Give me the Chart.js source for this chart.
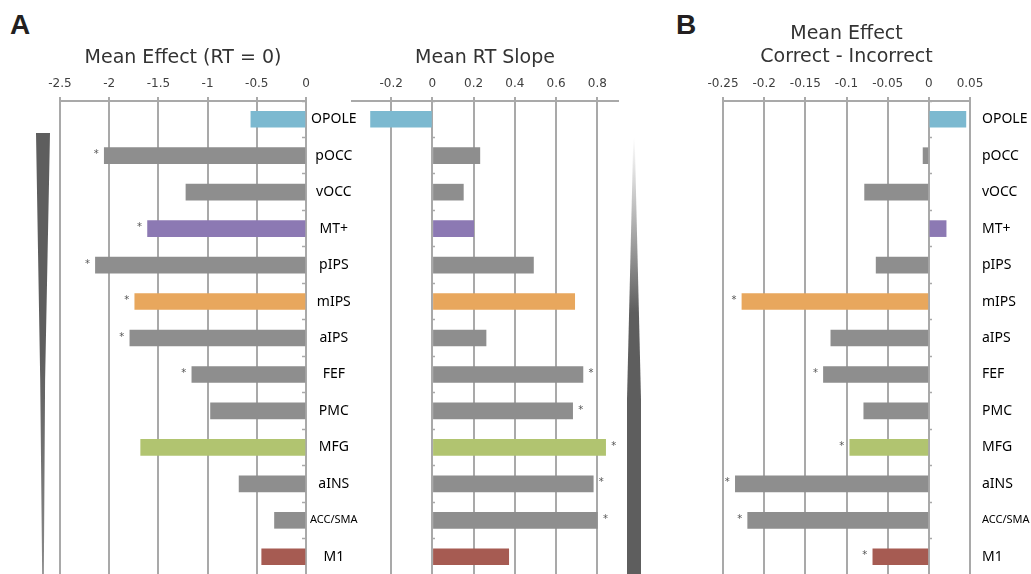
<!DOCTYPE html>
<html>
<head>
<meta charset="utf-8">
<script src="https://cdn.jsdelivr.net/npm/chart.js@4.4.0/dist/chart.umd.min.js"></script>
<style>
html, body { margin: 0; padding: 0; background: #fff; overflow: hidden; }
#fig { position: relative; width: 1031px; height: 574px; overflow: hidden; }
canvas { position: absolute; top: 0; }
.letter { position: absolute; font: bold 28px 'Liberation Sans', Arial, sans-serif; line-height: 28px; color: #231f20; }
#wedgeL { position: absolute; left: 36px; top: 133px; width: 14px; height: 441px;
  background: linear-gradient(#5e5e5e, #5e5e5e 50%, #8a8a8a);
  clip-path: polygon(0 0, 100% 0, 65% 56%, 56% 100%, 44% 100%, 30% 56%); }
#wedgeR { position: absolute; left: 627px; top: 138px; width: 14px; height: 436px;
  background: linear-gradient(#ffffff, #5e5e5e 40%);
  clip-path: polygon(45% 0, 55% 0, 100% 60%, 100% 100%, 0 100%, 0 60%); }
</style>
</head>
<body>
<div id="fig">
  <div class="letter" style="left:10px;top:11px">A</div>
  <div class="letter" style="left:676px;top:11px">B</div>
  <div id="wedgeL"></div>
  <div id="wedgeR"></div>
  <canvas id="c1" width="375" height="580" style="left:0"></canvas>
  <canvas id="c2" width="325" height="580" style="left:345px"></canvas>
  <canvas id="c3" width="361" height="580" style="left:670px"></canvas>
</div>
<script>
// regions, top to bottom
const regions = ['OPOLE', 'pOCC', 'vOCC', 'MT+', 'pIPS', 'mIPS', 'aIPS', 'FEF', 'PMC', 'MFG', 'aINS', 'ACC/SMA', 'M1'];

// A: mean effect at RT = 0, mean RT slope
const meanEffect = [-0.56, -2.05, -1.22, -1.61, -2.14, -1.74, -1.79, -1.16, -0.97, -1.68, -0.68, -0.32, -0.45];
const rtSlope = [-0.30, 0.23, 0.15, 0.20, 0.49, 0.69, 0.26, 0.73, 0.68, 0.84, 0.78, 0.80, 0.37];
// B: correct - incorrect
const corrDiff = [0.045, -0.007, -0.078, 0.021, -0.064, -0.227, -0.119, -0.128, -0.079, -0.096, -0.235, -0.220, -0.068];

// significance stars
const sigEffect = [0, 1, 0, 1, 1, 1, 1, 1, 0, 0, 0, 0, 0];
const sigSlope = [0, 0, 0, 0, 0, 0, 0, 1, 1, 1, 1, 1, 0];
const sigDiff = [0, 0, 0, 0, 0, 1, 0, 1, 0, 1, 1, 1, 1];

// tick labels
const effectTicks = [-2.5, -2, -1.5, -1, -0.5, 0];
const slopeTicks = [-0.2, 0, 0.2, 0.4, 0.6, 0.8];
const diffTicks = [-0.25, -0.2, -0.15, -0.1, -0.05, 0, 0.05];

const grey = '#8e8e8e';
const barColors = ['#7cb9d0', grey, grey, '#8c79b3', grey, '#e8a75d', grey, grey, grey, '#b1c470', grey, grey, '#a65b52'];

const gridGrey = '#a9a9a9';
const numFont = { family: "'DejaVu Sans', Verdana, sans-serif", size: 12 };
const titleFont = { family: "'DejaVu Sans', Verdana, sans-serif", size: 19 };
const labelFamily = "'Noto Sans', 'Open Sans', sans-serif";

Chart.defaults.animation = false;

const stars = {
  id: 'stars',
  afterDatasetsDraw(chart, args, opts) {
    const ctx = chart.ctx;
    ctx.save();
    ctx.font = "10px 'DejaVu Sans'";
    ctx.fillStyle = '#555';
    ctx.textAlign = 'center';
    ctx.textBaseline = 'middle';
    chart.getDatasetMeta(0).data.forEach((bar, i) => {
      if (!opts.flags[i]) return;
      const dir = bar.x < bar.base ? -1 : 1;
      ctx.fillText('*', bar.x + dir * 8, bar.y - 1);
    });
    ctx.restore();
  }
};

function labelFont(ctx) {
  const small = ctx.index !== undefined && regions[ctx.index] === 'ACC/SMA';
  return { family: labelFamily, size: small ? 11 : 14 };
}

// keep the category axes from pushing the plot area up
function fitWidth(w) {
  return s => {
    s.width = w;
    s.paddingTop = 0;
    s.paddingBottom = 0;
  };
}

function valueAxis(min, max, ticks, title, titleTop) {
  return {
    type: 'linear',
    position: 'top',
    min: min,
    max: max,
    afterBuildTicks: s => { s.ticks = ticks.map(v => ({ value: v })); },
    afterFit: s => { s.height = 101; },
    grid: { color: gridGrey, lineWidth: 2, tickLength: 4, tickColor: gridGrey },
    border: { color: gridGrey, width: 2 },
    ticks: {
      font: numFont, color: '#404040', padding: 6, maxRotation: 0, autoSkip: false,
      callback: v => String(+(+v).toFixed(3))
    },
    title: { display: true, text: title, font: titleFont, color: '#333', padding: { top: titleTop, bottom: 0 } }
  };
}

const zeroAxisGrid = { offset: true, drawOnChartArea: false, tickLength: -4, tickColor: gridGrey, tickWidth: 1.5 };

function makeChart(id, values, flags, xAxis, yScales, padding) {
  return new Chart(document.getElementById(id), {
    type: 'bar',
    data: {
      labels: regions,
      datasets: [{ data: values, backgroundColor: barColors, barThickness: 16, borderWidth: 0 }]
    },
    options: {
      indexAxis: 'y',
      responsive: false,
      devicePixelRatio: 1,
      layout: { padding: padding },
      plugins: { legend: { display: false }, tooltip: { enabled: false }, stars: { flags: flags } },
      scales: Object.assign({ x: xAxis }, yScales)
    },
    plugins: [stars]
  });
}

// A, left: mean effect (RT = 0)
makeChart('c1', meanEffect, sigEffect,
  valueAxis(-2.5, 0, effectTicks, 'Mean Effect (RT = 0)', 47),
  {
    y: {
      type: 'category', position: 'right', offset: true,
      afterFit: fitWidth(69),
      grid: zeroAxisGrid,
      border: { color: gridGrey, width: 2 },
      ticks: { crossAlign: 'center', padding: 8, color: '#000', font: labelFont }
    }
  },
  { left: 60, right: 0, top: 0, bottom: 5 });

// A, right: mean RT slope
makeChart('c2', rtSlope, sigSlope,
  valueAxis(-0.39, 0.9, slopeTicks, 'Mean RT Slope', 47),
  {
    y: {
      type: 'category', position: { x: 0 }, offset: true,
      grid: zeroAxisGrid,
      border: { color: gridGrey, width: 2 },
      ticks: { display: false }
    }
  },
  { left: 7, right: 52, top: 0, bottom: 5 });

// B: correct - incorrect
makeChart('c3', corrDiff, sigDiff,
  valueAxis(-0.25, 0.05, diffTicks, ['Mean Effect', 'Correct - Incorrect'], 23),
  {
    y: {
      type: 'category', position: { x: 0 }, offset: true,
      grid: zeroAxisGrid,
      border: { color: gridGrey, width: 2 },
      ticks: { display: false }
    },
    y2: {
      type: 'category', position: 'right', offset: true,
      afterFit: fitWidth(61),
      grid: { display: false, drawTicks: false },
      border: { display: false },
      ticks: { crossAlign: 'near', padding: 12, color: '#000', font: labelFont }
    }
  },
  { left: 53, right: 0, top: 0, bottom: 5 });
</script>
</body>
</html>
